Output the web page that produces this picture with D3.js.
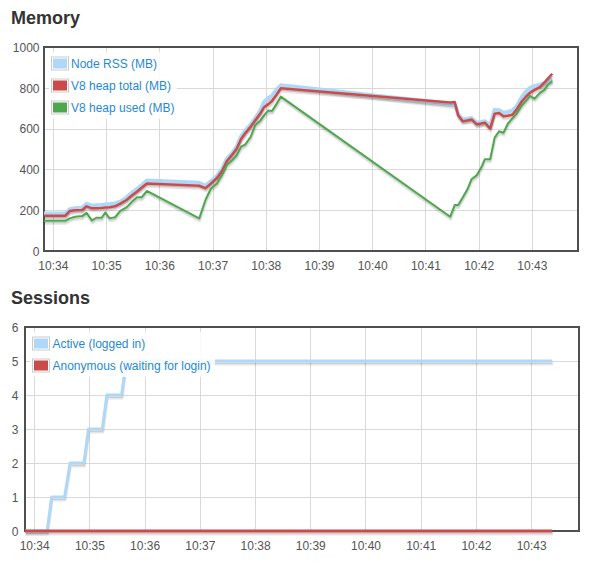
<!DOCTYPE html>
<html><head><meta charset="utf-8">
<script src="https://cdn.jsdelivr.net/npm/d3@7"></script>
<style>
body{margin:0;background:#fff;}
svg{font-family:"Liberation Sans",Arial,Helvetica,sans-serif;}
</style>
</head><body>
<svg id="c" width="600" height="570"></svg>
<script>
// ---------- data ----------
const xDomain = ["10:33:50", "10:43:52"];
const timeTicks = ["10:34","10:35","10:36","10:37","10:38","10:39","10:40","10:41","10:42","10:43"];

const memTimes = ["10:33:50","10:34:14","10:34:19","10:34:25","10:34:33","10:34:38","10:34:44","10:34:49","10:34:55","10:34:59",
  "10:35:04","10:35:10","10:35:16","10:35:23","10:35:29","10:35:35","10:35:40","10:35:46",
  "10:36:45","10:36:52","10:36:58","10:37:05","10:37:11","10:37:16","10:37:22","10:37:27","10:37:32","10:37:37",
  "10:37:43","10:37:48","10:37:54","10:37:58","10:38:03","10:38:07","10:38:12","10:38:17",
  "10:41:28","10:41:33","10:41:37","10:41:42","10:41:47","10:41:52","10:41:58","10:42:03","10:42:07","10:42:13",
  "10:42:18","10:42:23","10:42:28","10:42:33","10:42:38","10:42:43","10:42:48","10:42:53","10:42:58","10:43:03",
  "10:43:09","10:43:14","10:43:18","10:43:23"];
const nodeRss = [184,184,205,210,212,232,222,224,226,228,
  230,233,242,262,285,305,322,345,
  334,320,342,368,405,450,478,510,560,590,
  620,650,690,730,750,760,790,812,
  722,722,670,645,648,652,628,632,636,615,
  692,690,678,682,688,710,750,780,800,808,
  815,825,835,843];
const heapTotal = [173,173,196,200,201,219,209,210,211,213,
  215,219,232,250,272,292,310,331,
  320,308,330,358,395,440,472,500,548,578,
  610,640,675,705,720,735,765,798,
  728,730,665,636,640,645,621,625,629,600,
  673,676,660,663,668,695,730,755,776,790,
  803,825,845,869];
const heapUsed = [148,148,160,168,171,187,150,163,163,189,
  160,165,197,214,241,263,263,295,
  160,250,305,331,375,421,445,468,510,523,
  560,616,640,665,689,686,720,757,
  168,225,225,262,300,352,372,410,450,450,
  556,587,580,625,650,675,710,735,760,747,
  775,790,815,833];
const memTicks = [0,200,400,600,800,1000];

const sessTimes = ["10:33:50","10:34:14","10:34:19","10:34:33","10:34:39","10:34:54","10:34:59",
  "10:35:14","10:35:19","10:35:35","10:35:40","10:43:23"];
const sessActive = [0,0,1,1,2,2,3,3,4,4,5,5];
const sessAnon   = [0,0,0,0,0,0,0,0,0,0,0,0];
const sessTicks = [0,1,2,3,4,5,6];

// ---------- drawing ----------
const parseT = d3.timeParse("%H:%M:%S");
const parseHM = d3.timeParse("%H:%M");
const svg = d3.select("#c");
const GRID = "#d9d9d9", BORDER = "#4f4f4f", LABEL = "#545454", LEGEND_TXT = "#1f8ad0";

function panel(o) {
  const g = svg.append("g");
  const x = d3.scaleTime().domain(xDomain.map(parseT)).range([o.left, o.right]);
  const y = d3.scaleLinear().domain(o.yDomain).range([o.bottom, o.top]);
  const tX = timeTicks.map(parseHM);

  g.append("text").attr("x", 11).attr("y", o.titleY).text(o.title)
    .attr("font-size", 18).attr("font-weight", "bold").attr("fill", "#333");

  // grid (axes with long ticks)
  const gx = g.append("g").attr("transform", `translate(0,${o.bottom})`)
    .call(d3.axisBottom(x).tickValues(tX).tickSize(-(o.bottom - o.top)).tickFormat(""));
  const gy = g.append("g").attr("transform", `translate(${o.left},0)`)
    .call(d3.axisLeft(y).tickValues(o.yTicks).tickSize(-(o.right - o.left)).tickFormat(""));
  [gx, gy].forEach(a => { a.select(".domain").remove(); a.selectAll("line").attr("stroke", GRID).attr("stroke-width", 1); });
  gx.selectAll(".tick").attr("transform", d => `translate(${Math.round(x(d)) + 0.5},0)`);
  gy.selectAll(".tick").attr("transform", d => `translate(0,${Math.round(y(d)) + 0.5})`);

  // tick labels
  const lx = g.append("g").attr("transform", `translate(0,${o.bottom})`)
    .call(d3.axisBottom(x).tickValues(tX).tickSize(0).tickFormat(d3.timeFormat("%H:%M")));
  lx.select(".domain").remove();
  lx.selectAll("text").attr("y", 19).attr("dy", 0).attr("font-size", 12).attr("fill", LABEL)
    .attr("font-family", "Liberation Sans, Arial, sans-serif");
  const ly = g.append("g").attr("transform", `translate(${o.labelRight},0)`)
    .call(d3.axisLeft(y).tickValues(o.yTicks).tickSize(0).tickPadding(0).tickFormat(d3.format("d")));
  ly.select(".domain").remove();
  ly.selectAll("text").attr("x", 0).attr("dy", "0.35em").attr("font-size", 12).attr("fill", LABEL)
    .attr("font-family", "Liberation Sans, Arial, sans-serif");

  // border
  g.append("rect").attr("x", o.left).attr("y", o.top).attr("width", o.right - o.left).attr("height", o.bottom - o.top)
    .attr("fill", "none").attr("stroke", BORDER).attr("stroke-width", 2);

  // series
  o.series.forEach(s => {
    const pts = s.times.map((t, i) => [parseT(t), s.values[i]]);
    const line = d3.line().x(d => x(d[0])).y(d => y(d[1]));
    const sw = 3, ang = Math.PI / 18;
    const off1 = s.width / 2 + sw / 2, off2 = s.width / 2 + sw / 4;
    g.append("path").attr("d", line(pts)).attr("fill", "none").attr("stroke", "rgba(0,0,0,0.1)")
      .attr("stroke-width", sw).attr("stroke-linejoin", "round")
      .attr("transform", `translate(${Math.sin(ang) * off1},${Math.cos(ang) * off1})`);
    g.append("path").attr("d", line(pts)).attr("fill", "none").attr("stroke", "rgba(0,0,0,0.1)")
      .attr("stroke-width", sw / 2).attr("stroke-linejoin", "round")
      .attr("transform", `translate(${Math.sin(ang) * off2},${Math.cos(ang) * off2})`);
    g.append("path").attr("d", line(pts)).attr("fill", "none").attr("stroke", s.color)
      .attr("stroke-width", s.width).attr("stroke-linejoin", "round");
  });

  // legend
  const L = o.legend;
  g.append("rect").attr("x", L.bx0).attr("y", L.by0).attr("width", L.bx1 - L.bx0).attr("height", L.by1 - L.by0)
    .attr("fill", "#fff").attr("fill-opacity", 0.85);
  o.series.forEach((s, i) => {
    const cy = L.y0 + i * L.dy;
    g.append("rect").attr("x", L.sx + 0.5).attr("y", cy - 6.5).attr("width", 17).attr("height", 13)
      .attr("fill", "#fff").attr("stroke", "#ccc").attr("stroke-width", 1);
    g.append("rect").attr("x", L.sx + 2).attr("y", cy - 5).attr("width", 14).attr("height", 10).attr("fill", s.color);
    g.append("text").attr("x", L.tx).attr("y", cy + 4.3).text(s.label)
      .attr("font-size", 12).attr("fill", LEGEND_TXT);
  });
}

panel({
  title: "Memory", titleY: 24,
  left: 44, right: 578, top: 47, bottom: 251, labelRight: 39.5,
  yDomain: [0, 1000], yTicks: memTicks,
  series: [
    {label: "Node RSS (MB)", color: "#afd8f8", width: 4, times: memTimes, values: nodeRss},
    {label: "V8 heap total (MB)", color: "#cb4b4b", width: 2.5, times: memTimes, values: heapTotal},
    {label: "V8 heap used (MB)", color: "#4da74d", width: 2, times: memTimes, values: heapUsed}
  ],
  legend: {bx0: 49, by0: 52, bx1: 177, by1: 119, sx: 51, tx: 71, y0: 63.5, dy: 22}
});

panel({
  title: "Sessions", titleY: 304,
  left: 25, right: 579, top: 327, bottom: 531, labelRight: 18.5,
  yDomain: [0, 6], yTicks: sessTicks,
  series: [
    {label: "Active (logged in)", color: "#afd8f8", width: 3, times: sessTimes, values: sessActive},
    {label: "Anonymous (waiting for login)", color: "#cb4b4b", width: 3, times: sessTimes, values: sessAnon}
  ],
  legend: {bx0: 30, by0: 332, bx1: 215, by1: 377, sx: 32, tx: 52.5, y0: 343.5, dy: 22}
});
</script>
</body></html>
